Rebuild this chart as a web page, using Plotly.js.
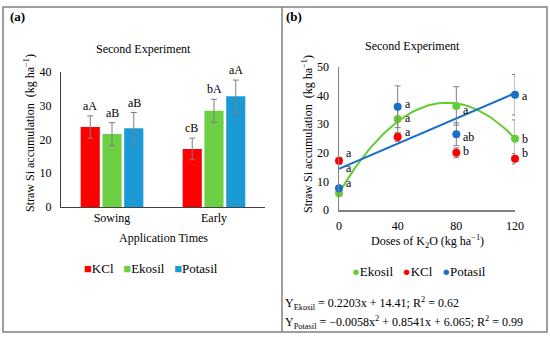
<!DOCTYPE html>
<html>
<head>
<meta charset="utf-8">
<script src="https://cdn.plot.ly/plotly-3.0.1.min.js"></script>
<style>html,body{margin:0;padding:0;background:#fff}#chart{width:550px;height:337px}</style>
</head>
<body>
<div id="chart"></div>
<script>
// ---------- Panel (a): bar chart ----------
const timeCategories = ["Sowing", "Early"];
const barSeriesNames = ["KCl", "Ekosil", "Potasil"];
const kclBar = [23.7, 17.2];
const ekosilBar = [21.6, 28.5];
const potasilBar = [23.3, 32.8];
const kclBarErr = [3.3, 3.2];
const ekosilBarErr = [3.4, 3.4];
const potasilBarErr = [4.7, 4.8];
const kclBarLetters = ["aA", "cB"];
const ekosilBarLetters = ["aB", "bA"];
const potasilBarLetters = ["aB", "aA"];
const barTicks = [0, 10, 20, 30, 40];

// ---------- Panel (b): dose response ----------
const doses = [0, 40, 80, 120];
const doseTicks = [0, 40, 80, 120];
const ekosilPts = [5.9, 31.8, 36.4, 24.9];
const kclPts = [17.2, 25.5, 20.0, 17.9];
const potasilPts = [7.6, 36.1, 26.5, 40.3];
const ekosilPtsErr = [1.0, 5.0, 6.7, 6.6];
const kclPtsErr = [1.2, 1.5, 1.7, 1.8];
const potasilPtsErr = [1.0, 7.3, 4.0, 7.1];
const ekosilLetters = ["a", "a", "a", "b"];
const kclLetters = ["a", "a", "b", "b"];
const potasilLetters = ["a", "a", "ab", "a"];
const lineTicksB = [0, 10, 20, 30, 40, 50];
// trendline coefficients as printed on the chart
const quadCoef = [-0.0058, 0.8541, 6.065];   // drawn green
const linCoef = [0.2203, 14.41];            // drawn blue
const eq1 = "Y<sub>Ekosil</sub> = 0.2203x + 14.41; R<sup>2</sup> = 0.62";
const eq2 = "Y<sub>Potasil</sub> = \u22120.0058x<sup>2</sup> + 0.8541x + 6.065; R<sup>2</sup> = 0.99";

// ---------- styles ----------
const FONT = "'Liberation Serif', 'Times New Roman', serif";
const RED = "#ff0000", GREEN_BAR = "#6dcf43", BLUE_BAR = "#1c9ad6";
const GREEN_PT = "#66cc33", BLUE_PT = "#1a6fc7";
const ERR = "#7f7f7f";
const GAP = "\u00a0\u00a0\u00a0";

const traces = [];
const barData = [[kclBar, kclBarErr, RED], [ekosilBar, ekosilBarErr, GREEN_BAR], [potasilBar, potasilBarErr, BLUE_BAR]];
barData.forEach((d, i) => {
  traces.push({
    type: "bar", x: timeCategories, y: d[0], name: barSeriesNames[i],
    marker: {color: d[2]}, xaxis: "x", yaxis: "y", showlegend: false,
    error_y: {type: "data", array: d[1], visible: true, color: ERR, thickness: 1, width: 3}
  });
});

// trendlines (panel b)
const fineX = [];
for (let x = 0; x <= 120; x += 2) fineX.push(x);
traces.push({type: "scatter", mode: "lines", x: fineX,
  y: fineX.map(x => quadCoef[0]*x*x + quadCoef[1]*x + quadCoef[2]),
  line: {color: GREEN_PT, width: 2}, xaxis: "x2", yaxis: "y2", showlegend: false, hoverinfo: "skip"});
traces.push({type: "scatter", mode: "lines", x: fineX,
  y: fineX.map(x => linCoef[0]*x + linCoef[1]),
  line: {color: BLUE_PT, width: 2}, xaxis: "x2", yaxis: "y2", showlegend: false, hoverinfo: "skip"});

const ptData = [["Ekosil", ekosilPts, ekosilPtsErr, GREEN_PT], ["KCl", kclPts, kclPtsErr, RED], ["Potasil", potasilPts, potasilPtsErr, BLUE_PT]];
ptData.forEach(d => {
  traces.push({type: "scatter", mode: "markers", x: doses, y: d[1], name: d[0],
    marker: {color: d[3], size: 8}, xaxis: "x2", yaxis: "y2", showlegend: false, cliponaxis: false,
    error_y: {type: "data", array: d[2], visible: true, color: ERR, thickness: 1, width: 3}});
});

const annotations = [];
const shapes = [];
const txt = (o) => Object.assign({showarrow: false, font: {family: FONT, size: 12, color: "#000"}}, o);

// panel labels and titles
annotations.push(txt({xref: "paper", yref: "paper", x: 8/550, y: 1-17/337, xanchor: "left", yanchor: "middle", text: "<b>(a)</b>", font: {family: FONT, size: 13, color: "#000"}}));
annotations.push(txt({xref: "paper", yref: "paper", x: 284/550, y: 1-17/337, xanchor: "left", yanchor: "middle", text: "<b>(b)</b>", font: {family: FONT, size: 13, color: "#000"}}));
annotations.push(txt({xref: "paper", yref: "paper", x: 143/550, y: 1-49/337, xanchor: "center", yanchor: "middle", text: "Second Experiment"}));
annotations.push(txt({xref: "paper", yref: "paper", x: 412/550, y: 1-46/337, xanchor: "center", yanchor: "middle", text: "Second Experiment"}));
annotations.push(txt({xref: "paper", yref: "paper", x: 29/550, y: 1-133/337, xanchor: "center", yanchor: "middle", textangle: -90, text: "Straw Si accumulation  (kg ha<sup>\u22121</sup>)"}));
annotations.push(txt({xref: "paper", yref: "paper", x: 307/550, y: 1-134/337, xanchor: "center", yanchor: "middle", textangle: -90, text: "Straw Si accumulation  (kg ha<sup>\u22121</sup>)"}));
annotations.push(txt({xref: "paper", yref: "paper", x: 163/550, y: 1-238/337, xanchor: "center", yanchor: "middle", text: "Application Times"}));
annotations.push(txt({xref: "paper", yref: "paper", x: 427/550, y: 1-241/337, xanchor: "center", yanchor: "middle", text: "Doses of K<sub>2</sub>O (kg ha<sup>\u22121</sup>)"}));
annotations.push(txt({xref: "paper", yref: "paper", x: 283/550, y: 1-303/337, xanchor: "left", yanchor: "middle", text: eq1}));
annotations.push(txt({xref: "paper", yref: "paper", x: 283/550, y: 1-322/337, xanchor: "left", yanchor: "middle", text: eq2}));

// legends (manual, compact like the original)
const legA = barSeriesNames.map((n, i) => `<span style="color:${barData[i][2]}">\u25A0</span>${n}`).join(GAP);
annotations.push(txt({xref: "paper", yref: "paper", x: 82/550, y: 1-268/337, xanchor: "left", yanchor: "middle", text: legA, font: {family: FONT, size: 13, color: "#000"}}));
const legB = ptData.map(d => `<span style="color:${d[3]}">\u25CF</span>${d[0]}`).join(GAP);
annotations.push(txt({xref: "paper", yref: "paper", x: 350/550, y: 1-271/337, xanchor: "left", yanchor: "middle", text: legB, font: {family: FONT, size: 13, color: "#000"}}));

// bar letters
const barLetters = [kclBarLetters, ekosilBarLetters, potasilBarLetters];
const barOffsets = [-0.22, 0, 0.22];
barData.forEach((d, i) => {
  timeCategories.forEach((c, j) => {
    annotations.push(txt({xref: "x", yref: "y", x: j + barOffsets[i], y: d[0][j] + d[1][j], xanchor: "center", yanchor: "bottom", yshift: 1, text: barLetters[i][j]}));
  });
});

// point letters
const ptLetters = [ekosilLetters, kclLetters, potasilLetters];
const ptShift = [[10, 1, -4, 0], [8, 5, 2, 6], [20, 3, -3, -1]];
ptData.forEach((d, i) => {
  doses.forEach((x, j) => {
    annotations.push(txt({xref: "x2", yref: "y2", x: x, y: d[1][j], xanchor: "left", yanchor: "middle", xshift: 5, yshift: ptShift[i][j], text: ptLetters[i][j]}));
  });
});

// frame
shapes.push({type: "rect", xref: "paper", yref: "paper", x0: 3/550, x1: 547/550, y0: 1-332/337, y1: 1-7/337, line: {color: "#808080", width: 1.5}});
shapes.push({type: "line", xref: "paper", yref: "paper", x0: 282/550, x1: 282/550, y0: 1-332/337, y1: 1-7/337, line: {color: "#808080", width: 1.5}});

const tickFont = {family: FONT, size: 12, color: "#000"};
const layout = {
  width: 550, height: 337, margin: {l: 0, r: 0, t: 0, b: 0},
  paper_bgcolor: "#fff", plot_bgcolor: "rgba(0,0,0,0)",
  font: {family: FONT, size: 12, color: "#000"},
  showlegend: false,
  barmode: "group", bargap: 0.36, bargroupgap: 0.12,
  xaxis: {domain: [61/550, 265/550], showline: true, linecolor: "#404040", linewidth: 1, ticks: "", tickfont: tickFont, showgrid: false, zeroline: false, fixedrange: true},
  yaxis: {domain: [1-207/337, 1-72/337], range: [0, 40], tickvals: barTicks, showline: true, linecolor: "#404040", linewidth: 1, ticks: "", tickfont: tickFont, showgrid: false, zeroline: false, ticklabelstandoff: 6},
  xaxis2: {domain: [339/550, 515/550], range: [0, 120], tickvals: doseTicks, showline: true, linecolor: "#808080", linewidth: 1.5, ticks: "", tickfont: tickFont, showgrid: false, zeroline: false, anchor: "y2", ticklabelstandoff: 4},
  yaxis2: {domain: [1-210/337, 1-67/337], range: [0, 50], tickvals: lineTicksB, showline: true, linecolor: "#808080", linewidth: 1.5, ticks: "", tickfont: tickFont, showgrid: false, zeroline: false, anchor: "x2", ticklabelstandoff: 6},
  annotations: annotations, shapes: shapes
};
Plotly.newPlot("chart", traces, layout, {staticPlot: true, displayModeBar: false});
</script>
</body>
</html>
